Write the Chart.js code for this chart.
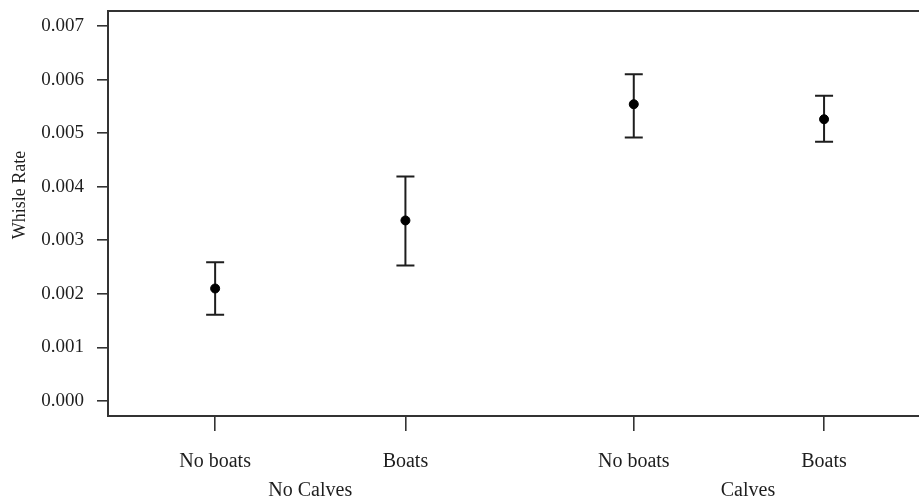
<!DOCTYPE html>
<html>
<head>
<meta charset="utf-8">
<script src="https://cdn.jsdelivr.net/npm/chart.js@4"></script>
<style>
  html, body { margin: 0; padding: 0; background: #fff; overflow: hidden; }
  #wrap { width: 919px; height: 502px; }
</style>
</head>
<body>
<div id="wrap"><canvas id="c" width="919" height="502"></canvas></div>
<script>
// whistle rate by group
const positions = [1, 2, 3.2, 4.2];
const tickLabels = ["No boats", "Boats", "No boats", "Boats"];
const means = [0.00210, 0.00337, 0.00554, 0.00526];
const upper = [0.00259, 0.00419, 0.00610, 0.00570];
const lower = [0.00161, 0.00253, 0.00492, 0.00484];
const groupLabels = ["No Calves", "Calves"];
const groupPositions = [1.5, 3.8];
const yTicks = [0, 0.001, 0.002, 0.003, 0.004, 0.005, 0.006, 0.007];

const FONT = "'Liberation Serif', 'Times New Roman', serif";
const INK = "#1e1e1e";

const errorBars = {
  id: "errorBars",
  beforeDatasetsDraw(chart) {
    const { ctx, scales: { x, y } } = chart;
    ctx.save();
    ctx.strokeStyle = INK;
    ctx.lineWidth = 2;
    positions.forEach((p, i) => {
      const px = x.getPixelForValue(p);
      const top = y.getPixelForValue(upper[i]);
      const bot = y.getPixelForValue(lower[i]);
      ctx.beginPath();
      ctx.moveTo(px, top);
      ctx.lineTo(px, bot);
      ctx.moveTo(px - 9, top);
      ctx.lineTo(px + 9, top);
      ctx.moveTo(px - 9, bot);
      ctx.lineTo(px + 9, bot);
      ctx.stroke();
    });
    ctx.restore();
  },
  afterDraw(chart) {
    const { ctx, chartArea: a, scales: { x } } = chart;
    ctx.save();
    // top and bottom lines run off the right edge, like the cropped original
    ctx.strokeStyle = "#333";
    ctx.lineWidth = 2;
    ctx.beginPath();
    ctx.moveTo(a.left, a.top);
    ctx.lineTo(chart.width, a.top);
    ctx.moveTo(a.left, a.bottom);
    ctx.lineTo(chart.width, a.bottom);
    ctx.stroke();

    ctx.fillStyle = INK;
    ctx.textAlign = "center";
    ctx.textBaseline = "middle";
    ctx.font = "20px " + FONT;
    groupLabels.forEach((t, i) => {
      ctx.fillText(t, x.getPixelForValue(groupPositions[i]), 491);
    });

    ctx.font = "18px " + FONT;
    ctx.translate(20, 195);
    ctx.rotate(-Math.PI / 2);
    ctx.fillText("Whisle Rate", 0, 0);
    ctx.restore();
  }
};

new Chart(document.getElementById("c"), {
  type: "scatter",
  data: {
    datasets: [{
      data: positions.map((p, i) => ({ x: p, y: means[i] })),
      backgroundColor: "#000",
      borderColor: "#000",
      pointRadius: 4.5,
      pointHoverRadius: 4.5
    }]
  },
  options: {
    responsive: false,
    animation: false,
    layout: { padding: { top: 11, right: 0, left: 0, bottom: 0 } },
    plugins: { legend: { display: false }, tooltip: { enabled: false } },
    scales: {
      x: {
        type: "linear",
        min: 0.437,
        max: 4.67,
        afterBuildTicks(scale) { scale.ticks = positions.map(v => ({ value: v })); },
        afterFit(scale) {
          scale.height = 86;
          scale.paddingLeft = 0;
          scale.paddingRight = 0;
        },
        ticks: {
          autoSkip: false,
          maxRotation: 0,
          padding: 19,
          color: INK,
          font: { family: FONT, size: 20 },
          callback(value) {
            const i = positions.indexOf(value);
            return i >= 0 ? tickLabels[i] : "";
          }
        },
        grid: { drawOnChartArea: false, drawTicks: true, tickLength: 15, color: "#333", lineWidth: 1.6 },
        border: { display: true, color: "#333", width: 2 }
      },
      y: {
        min: -0.00028,
        max: 0.00728,
        afterBuildTicks(scale) { scale.ticks = yTicks.map(v => ({ value: v })); },
        afterFit(scale) {
          scale.width = 108;
          scale.paddingTop = 0;
          scale.paddingBottom = 0;
        },
        ticks: {
          padding: 13,
          color: INK,
          font: { family: FONT, size: 19 },
          callback(value) { return value.toFixed(3); }
        },
        grid: { drawOnChartArea: false, drawTicks: true, tickLength: 11, color: "#333", lineWidth: 1.6 },
        border: { display: true, color: "#333", width: 2 }
      }
    }
  },
  plugins: [errorBars]
});
</script>
</body>
</html>
